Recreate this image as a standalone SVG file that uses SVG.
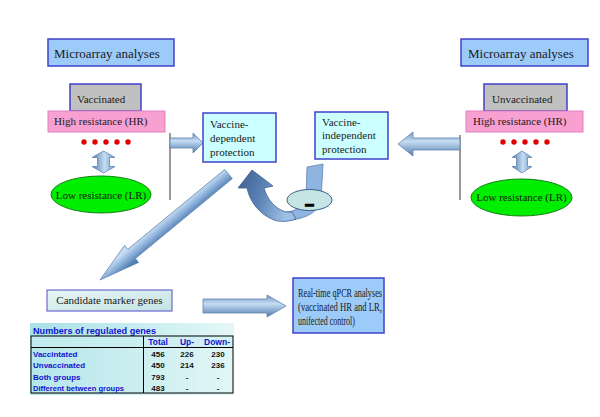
<svg xmlns="http://www.w3.org/2000/svg" width="600" height="417" viewBox="0 0 600 417">
<defs>
<linearGradient id="gv" x1="0" y1="0" x2="0" y2="1">
<stop offset="0" stop-color="#6f98c6"/><stop offset="0.4" stop-color="#c6dcf2"/><stop offset="1" stop-color="#4f7cae"/>
</linearGradient>
<linearGradient id="gh" x1="0" y1="0" x2="1" y2="0">
<stop offset="0" stop-color="#4f7cae"/><stop offset="0.55" stop-color="#c6dcf2"/><stop offset="1" stop-color="#6f98c6"/>
</linearGradient>
<linearGradient id="gd" gradientUnits="userSpaceOnUse" x1="175.5" y1="209.6" x2="184.5" y2="220.4">
<stop offset="0" stop-color="#c6dcf2"/><stop offset="0.45" stop-color="#8fb3dc"/><stop offset="1" stop-color="#4f7cae"/>
</linearGradient>
<linearGradient id="gc" x1="0" y1="0" x2="1" y2="0.3">
<stop offset="0" stop-color="#3c5f8e"/><stop offset="0.5" stop-color="#5b83b6"/><stop offset="1" stop-color="#9ec0e6"/>
</linearGradient>
<linearGradient id="gcand" x1="0" y1="0" x2="1" y2="1">
<stop offset="0" stop-color="#e8f6f6"/><stop offset="1" stop-color="#c4e2e2"/>
</linearGradient>
<linearGradient id="gtab" x1="0" y1="0" x2="1" y2="0">
<stop offset="0" stop-color="#b4e6ea"/><stop offset="1" stop-color="#e2f6f6"/>
</linearGradient>
<linearGradient id="gtitle" x1="0" y1="0" x2="1" y2="0">
<stop offset="0" stop-color="#a8e2e8"/><stop offset="1" stop-color="#e4f7f7"/>
</linearGradient>
</defs>
<style>
.serif{font-family:"Liberation Serif","Times New Roman",serif;fill:#1a1a1a}
.box{stroke:#4040cc;stroke-width:1.5}
.ma{fill:#9ccbfa}
.gray{fill:#c0c0c0}
.pink{fill:#f8a0d2;stroke:#e080c0;stroke-width:1}
.dot{fill:#e00000}
.lr{fill:#00ee00;stroke:#108010;stroke-width:1}
.cyan{fill:#ccffff}
.arrow{stroke:#5f84b0;stroke-width:0.8}
.vline{stroke:#333;stroke-width:1}
.tb{font-family:"Liberation Sans",Arial,sans-serif;font-weight:bold;font-size:8px;fill:#1212d0}
.tn{font-family:"Liberation Sans",Arial,sans-serif;font-weight:bold;font-size:8px;fill:#111;text-anchor:middle}
.th{font-family:"Liberation Sans",Arial,sans-serif;font-weight:bold;font-size:8.5px;fill:#1212d0;text-anchor:middle}
</style>
<rect width="600" height="417" fill="#fff"/>

<g id="connectors">
<line class="vline" x1="170" y1="133" x2="170" y2="200"/>
<line class="vline" x1="460" y1="135" x2="460" y2="200"/>
<path class="arrow" fill="url(#gh)" d="M103.5,151 L115,157.5 L109.5,157.5 L109.5,166.5 L115,166.5 L103.5,173 L92,166.5 L97.5,166.5 L97.5,157.5 L92,157.5 Z"/>
<path class="arrow" fill="url(#gh)" d="M522,151 L532,157.5 L527.5,157.5 L527.5,166.5 L532,166.5 L522,173 L512,166.5 L516.5,166.5 L516.5,157.5 L512,157.5 Z"/>
<path class="arrow" fill="url(#gv)" d="M170,138 L193,138 L193,133 L203,143 L193,153 L193,148 L170,148 Z"/>
<path class="arrow" fill="url(#gv)" d="M460,138 L413,138 L413,132 L398,144 L413,156 L413,150 L460,150 Z"/>
<path class="arrow" fill="url(#gv)" d="M203,299 L267,299 L267,295 L286,306 L267,317 L267,313 L203,313 Z"/>
<path class="arrow" fill="url(#gd)" d="M224.7,169.4 L232.3,178.6 L135.4,258.5 L138.6,262.4 L100,280 L124.6,245.4 L127.8,249.3 Z"/>
<path fill="#8fb4e0" stroke="#5f84b0" stroke-width="0.8" d="M307,167 L323,164 L321,200 C319,212 305,219 290,220 L286,212 C298,211 305,205 306,196 Z"/>
<path fill="url(#gc)" stroke="#3f628f" stroke-width="0.8" d="M292,212 L296,219 C288,222 280,222 274,220 C259,214 250,202 247,188 L238,188 L252,170 L273,186 L264,188 C267,199 275,209 286,212 Z"/>
</g>

<g id="minus-node">
<ellipse cx="309.5" cy="200" rx="22.5" ry="10.5" fill="#c6e4e4" stroke="#3a5f8a" stroke-width="1"/>
<text x="309.5" y="209.5" font-family="Liberation Sans,Arial,sans-serif" font-weight="bold" font-size="16" text-anchor="middle" fill="#000" stroke="#000" stroke-width="1.4">–</text>
</g>

<g id="microarray-left">
<rect class="box ma" x="48" y="39" width="126" height="27"/>
<text class="serif" x="54" y="58" font-size="13">Microarray analyses</text>
</g>
<g id="vaccinated">
<rect class="box gray" x="70" y="84" width="71" height="27"/>
<text class="serif" x="77" y="102.5" font-size="11">Vaccinated</text>
</g>
<g id="hr-left">
<rect class="pink" x="48" y="111" width="117" height="21"/>
<text class="serif" x="54" y="125" font-size="11">High resistance (HR)</text>
</g>
<g id="dots-left">
<circle class="dot" cx="84" cy="142" r="2.7"/><circle class="dot" cx="95" cy="142" r="2.7"/><circle class="dot" cx="106" cy="142" r="2.7"/><circle class="dot" cx="117" cy="142" r="2.7"/><circle class="dot" cx="128" cy="142" r="2.7"/>
</g>
<g id="lr-left">
<ellipse class="lr" cx="101" cy="194.5" rx="50" ry="18.5"/>
<text class="serif" x="101" y="198.5" font-size="11" text-anchor="middle">Low resistance (LR)</text>
</g>

<g id="microarray-right">
<rect class="box ma" x="461" y="39" width="127" height="27"/>
<text class="serif" x="468" y="57.5" font-size="13">Microarray analyses</text>
</g>
<g id="unvaccinated">
<rect class="box gray" x="484" y="84" width="83" height="27"/>
<text class="serif" x="492" y="103" font-size="11">Unvaccinated</text>
</g>
<g id="hr-right">
<rect class="pink" x="466" y="111" width="117" height="21"/>
<text class="serif" x="473" y="124.5" font-size="11">High resistance (HR)</text>
</g>
<g id="dots-right">
<circle class="dot" cx="503" cy="142" r="2.7"/><circle class="dot" cx="514" cy="142" r="2.7"/><circle class="dot" cx="525" cy="142" r="2.7"/><circle class="dot" cx="536" cy="142" r="2.7"/><circle class="dot" cx="547" cy="142" r="2.7"/>
</g>
<g id="lr-right">
<ellipse class="lr" cx="521.5" cy="197.5" rx="50.5" ry="18.5"/>
<text class="serif" x="521.5" y="201" font-size="11" text-anchor="middle">Low resistance (LR)</text>
</g>

<g id="vaccine-dependent">
<rect class="box cyan" x="203" y="113" width="73" height="49"/>
<text class="serif" font-size="11"><tspan x="210" y="127.5">Vaccine-</tspan><tspan x="210" y="141.5">dependent</tspan><tspan x="210" y="155.5">protection</tspan></text>
</g>
<g id="vaccine-independent">
<rect class="box cyan" x="315" y="112" width="73" height="47"/>
<text class="serif" font-size="11"><tspan x="322" y="125.5">Vaccine-</tspan><tspan x="322" y="139">independent</tspan><tspan x="322" y="152.5">protection</tspan></text>
</g>

<g id="candidate">
<rect x="47" y="290" width="125" height="21" fill="url(#gcand)" stroke="#6a6ad0" stroke-width="1.2"/>
<text class="serif" x="109.5" y="304" font-size="11" text-anchor="middle">Candidate marker genes</text>
</g>

<g id="qpcr">
<rect class="box ma" x="293" y="278" width="91" height="55"/>
<text class="serif" font-size="12.5" fill="#111">
<tspan x="298" y="297" textLength="84" lengthAdjust="spacingAndGlyphs">Real-time qPCR analyses</tspan>
<tspan x="298" y="311" textLength="84" lengthAdjust="spacingAndGlyphs">(vaccinated HR and LR,</tspan>
<tspan x="298" y="325" textLength="57" lengthAdjust="spacingAndGlyphs">unifected control)</tspan>
</text>
</g>

<g id="table">
<rect x="30" y="323" width="204" height="13" fill="url(#gtitle)"/>
<rect x="30" y="336" width="204" height="59" fill="url(#gtab)"/>
<rect x="31" y="336" width="202" height="11.5" fill="#c8eef0" opacity="0.6"/>
<text x="33" y="333.5" font-family="Liberation Sans,Arial,sans-serif" font-weight="bold" font-size="9.5" fill="#1212d0" textLength="123" lengthAdjust="spacingAndGlyphs">Numbers of regulated genes</text>
<rect x="31" y="336" width="202" height="57" fill="none" stroke="#000" stroke-width="1"/>
<line x1="31" y1="347.5" x2="233" y2="347.5" stroke="#000" stroke-width="1"/>
<line x1="143.5" y1="336" x2="143.5" y2="393" stroke="#000" stroke-width="1"/>
<text class="th" x="158" y="345">Total</text>
<text class="th" x="187" y="345">Up-</text>
<text class="th" x="217" y="345">Down-</text>
<text class="tb" x="33" y="357">Vaccintated</text>
<text class="tb" x="33" y="368">Unvaccinated</text>
<text class="tb" x="33" y="379.5">Both groups</text>
<text class="tb" x="33" y="390.5" textLength="91" lengthAdjust="spacingAndGlyphs">Different between groups</text>
<text class="tn" x="158" y="357">456</text><text class="tn" x="187" y="357">226</text><text class="tn" x="218" y="357">230</text>
<text class="tn" x="158" y="368">450</text><text class="tn" x="187" y="368">214</text><text class="tn" x="218" y="368">236</text>
<text class="tn" x="158" y="379.5">793</text><text class="tn" x="187" y="379.5">-</text><text class="tn" x="218" y="379.5">-</text>
<text class="tn" x="158" y="390.5">483</text><text class="tn" x="187" y="390.5">-</text><text class="tn" x="218" y="390.5">-</text>
</g>
</svg>
